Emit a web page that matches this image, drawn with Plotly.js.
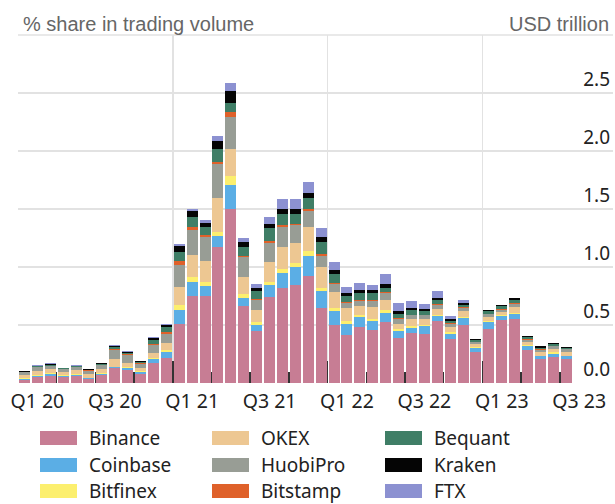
<!DOCTYPE html>
<html><head><meta charset="utf-8">
<script src="https://cdn.plot.ly/plotly-3.0.1.min.js"></script>
<style>html,body{margin:0;padding:0;background:#fff}#chart{width:615px;height:504px}</style>
</head><body><div id="chart"></div>
<script>
// Monthly spot trading volume by exchange, USD trillion
const months = ['Jan 20','Feb 20','Mar 20','Apr 20','May 20','Jun 20','Jul 20','Aug 20','Sep 20','Oct 20','Nov 20','Dec 20',
  'Jan 21','Feb 21','Mar 21','Apr 21','May 21','Jun 21','Jul 21','Aug 21','Sep 21','Oct 21','Nov 21','Dec 21',
  'Jan 22','Feb 22','Mar 22','Apr 22','May 22','Jun 22','Jul 22','Aug 22','Sep 22','Oct 22','Nov 22','Dec 22',
  'Jan 23','Feb 23','Mar 23','Apr 23','May 23','Jun 23','Jul 23'];
const tickLabels = ['Q1 20','Q3 20','Q1 21','Q3 21','Q1 22','Q3 22','Q1 23','Q3 23'];

const binance  = [.026,.049,.063,.054,.060,.031,.069,.126,.111,.074,.174,.217,.512,.752,.749,1.169,1.504,.660,.449,.741,.818,.846,.926,.649,.497,.418,.484,.455,.526,.392,.432,.426,.532,.383,.497,.269,.469,.541,.555,.283,.203,.226,.203];
const coinbase = [.008,.011,.011,.009,.009,.009,.005,.008,.015,.017,.029,.046,.120,.123,.085,.095,.203,.075,.048,.100,.128,.152,.172,.140,.124,.094,.085,.077,.080,.057,.046,.063,.043,.043,.064,.037,.057,.034,.043,.035,.028,.028,.028];
const bitfinex = [.006,.009,.009,.006,.005,.006,.009,.006,.008,.012,.014,.020,.043,.043,.035,.042,.077,.034,.029,.028,.038,.034,.037,.029,.028,.023,.015,.017,.020,.020,.014,.008,.009,.014,.008,.006,.009,.009,.008,.008,.006,.009,.006];
const okex     = [.029,.034,.034,.028,.037,.028,.034,.066,.040,.023,.043,.063,.151,.189,.180,.292,.237,.143,.100,.172,.185,.172,.206,.180,.135,.114,.077,.106,.086,.043,.063,.058,.057,.043,.052,.023,.034,.028,.049,.029,.029,.034,.032];
const huobipro = [.022,.031,.029,.023,.023,.032,.034,.077,.066,.037,.066,.080,.195,.212,.212,.286,.269,.172,.092,.163,.172,.157,.143,.100,.071,.040,.045,.051,.066,.043,.029,.029,.034,.029,.025,.017,.023,.020,.028,.020,.020,.020,.020];
const bitstamp = [.003,.006,.003,.003,.006,.003,.003,.006,.006,.006,.008,.014,.034,.022,.017,.023,.045,.014,.008,.017,.020,.014,.014,.015,.009,.009,.006,.006,.006,.009,.005,.005,.006,.006,.006,.003,.006,.006,.006,.006,.003,.003,.003];
const bequant  = [.003,.003,.008,.003,.003,.005,.012,.022,.014,.014,.035,.043,.072,.086,.063,.106,.078,.071,.066,.114,.094,.086,.100,.105,.077,.048,.063,.063,.037,.028,.037,.032,.031,.017,.017,.015,.022,.022,.023,.014,.016,.015,.010];
const kraken   = [.006,.006,.006,.003,.003,.006,.005,.009,.011,.005,.020,.020,.057,.057,.042,.071,.100,.043,.026,.035,.049,.043,.043,.038,.029,.029,.023,.023,.034,.029,.023,.020,.023,.020,.020,.013,.012,.015,.017,.011,.012,.011,.009];
const ftx      = [.002,.005,.006,.002,.006,.003,.003,.006,.006,.003,.008,.009,.014,.019,.023,.043,.077,.034,.037,.065,.086,.086,.091,.084,.070,.051,.062,.048,.085,.068,.057,.042,.054,.022,.023,0,0,0,0,0,0,0,0];

const seriesNames = ['Binance','Coinbase','Bitfinex','OKEX','HuobiPro','Bitstamp','Bequant','Kraken','FTX'];
const seriesValues = [binance, coinbase, bitfinex, okex, huobipro, bitstamp, bequant, kraken, ftx];
const seriesColors = ['#C77D94','#5BAEE5','#FCEF6E','#EDC792','#989D95','#DF612A','#3F7E66','#050505','#8C91D1'];

const xIdx = months.map((m, i) => i);
const traces = seriesNames.map((name, k) => ({
  type: 'bar', name: name, x: xIdx, y: seriesValues[k], customdata: months,
  hovertemplate: '%{customdata}<br>' + name + ': %{y:.3f}<extra></extra>',
  marker: {color: seriesColors[k], line: {width: 0}}, showlegend: false
}));
// empty helper trace so the label axis (x2) is drawn
traces.push({type: 'scatter', mode: 'markers', x: [], y: [], xaxis: 'x2', yaxis: 'y',
  showlegend: false, hoverinfo: 'skip'});

const W = 615, H = 504;
const M = {l: 18, r: 2, t: 35, b: 121};
const pw = W - M.l - M.r, ph = H - M.t - M.b;
const px2x = p => (p - M.l) / pw;
const py2y = p => (H - M.b - p) / ph;

const shapes = [], annotations = [];
const colX = [40, 212, 385], rowY = [438, 465, 491];
seriesNames.forEach((name, k) => {
  const c = Math.floor(k / 3), r = k % 3;
  shapes.push({type: 'rect', xref: 'paper', yref: 'paper',
    x0: px2x(colX[c]), x1: px2x(colX[c] + 37), y0: py2y(rowY[r] + 7), y1: py2y(rowY[r] - 7),
    fillcolor: seriesColors[k], line: {width: 0}});
  annotations.push({xref: 'paper', yref: 'paper', x: px2x(colX[c] + 48), y: py2y(rowY[r]),
    xanchor: 'left', yanchor: 'middle', showarrow: false, text: name, borderpad: 0,
    font: {family: 'Noto Sans, Open Sans, sans-serif', size: 19, color: '#222'}});
});
shapes.push({type: 'line', xref: 'paper', yref: 'paper', x0: 0, x1: 1, y0: 1, y1: 1,
  line: {color: '#e2e2e2', width: 1.5}});
annotations.push({xref: 'paper', yref: 'paper', x: px2x(21), y: py2y(24), xanchor: 'left', yanchor: 'middle',
  showarrow: false, text: '% share in trading volume', font: {family: 'Liberation Sans, Arial, sans-serif', size: 20, color: '#666'}});
annotations.push({xref: 'paper', yref: 'paper', x: px2x(611), y: py2y(24), xanchor: 'right', yanchor: 'middle',
  showarrow: false, text: 'USD trillion', font: {family: 'Liberation Sans, Arial, sans-serif', size: 20, color: '#666'}});

const xRange = [-0.5, -0.5 + pw / 12.9];
const layout = {
  width: W, height: H, margin: M, barmode: 'stack', bargap: 0.15,
  paper_bgcolor: '#fff', plot_bgcolor: '#fff', showlegend: false,
  xaxis: {range: xRange, tickmode: 'array', tickvals: [-0.5, 11.5, 23.5, 35.5], ticktext: ['', '', '', ''],
    ticks: 'inside', ticklen: 22, tickwidth: 1.5, tickcolor: '#333',
    showgrid: true, gridcolor: '#e2e2e2', gridwidth: 1.5, zeroline: false, showline: false,
    minor: {tickmode: 'array', tickvals: [2.5, 5.5, 8.5, 14.5, 17.5, 20.5, 26.5, 29.5, 32.5, 38.5, 41.5],
      ticks: 'inside', ticklen: 11, tickwidth: 1.5, tickcolor: '#333', showgrid: false}},
  xaxis2: {overlaying: 'x', side: 'bottom', range: xRange, tickmode: 'array',
    tickvals: tickLabels.map((t, k) => 1 + 6 * k), ticktext: tickLabels, ticks: '', ticklabelstandoff: 4,
    showgrid: false, zeroline: false, showline: false,
    tickfont: {family: 'Noto Sans, Open Sans, sans-serif', size: 19.5, color: '#222'}},
  yaxis: {side: 'right', range: [0, 3], tickmode: 'array', tickvals: [0, 0.5, 1, 1.5, 2, 2.5, 3],
    ticktext: ['0.0', '0.5', '1.0', '1.5', '2.0', '2.5', ''], ticklabelposition: 'inside top', ticks: '',
    showgrid: true, gridcolor: '#e2e2e2', gridwidth: 1.5, zeroline: false, showline: false,
    tickfont: {family: 'Noto Sans, Open Sans, sans-serif', size: 19, color: '#222'}},
  shapes: shapes, annotations: annotations
};
Plotly.newPlot('chart', traces, layout, {displayModeBar: false, staticPlot: true});
</script></body></html>
